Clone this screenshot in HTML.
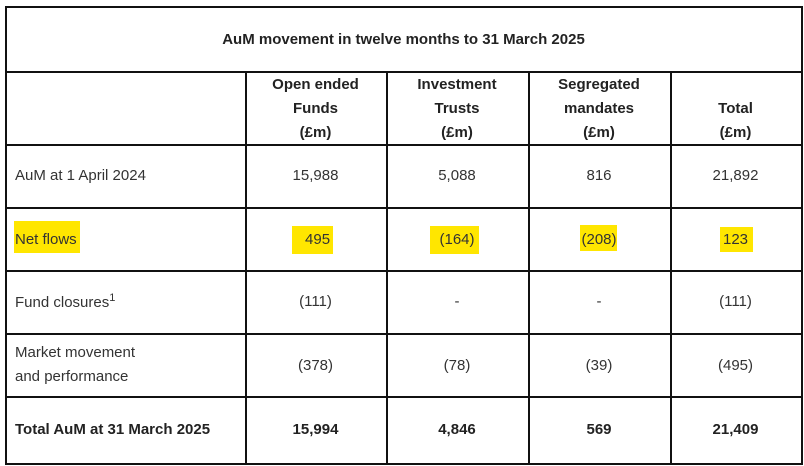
<!DOCTYPE html>
<html><head><meta charset="utf-8"><style>
body{margin:0;width:804px;height:466px;background:#fff;position:relative;overflow:hidden;font-family:"Liberation Sans",Arial,sans-serif;color:#333;font-size:15px}
.l{position:absolute;background:#111}
.t{position:absolute;text-align:center;line-height:24px}
.r{position:absolute;left:15px;line-height:24px}
.b{font-weight:bold;color:#222}
.hl{position:absolute;background:#ffe600}
</style></head><body>
<div>
<div class="l" style="left:5px;top:6px;width:797px;height:1.5px"></div>
<div class="l" style="left:5px;top:463px;width:797px;height:1.5px"></div>
<div class="l" style="left:5px;top:6px;width:1.5px;height:459px"></div>
<div class="l" style="left:801px;top:6px;width:1.5px;height:459px"></div>
<div class="l" style="left:5px;top:71px;width:797px;height:1.5px"></div>
<div class="l" style="left:5px;top:144px;width:797px;height:1.5px"></div>
<div class="l" style="left:5px;top:207px;width:797px;height:1.5px"></div>
<div class="l" style="left:5px;top:270px;width:797px;height:1.5px"></div>
<div class="l" style="left:5px;top:333px;width:797px;height:1.5px"></div>
<div class="l" style="left:5px;top:396px;width:797px;height:1.5px"></div>
<div class="l" style="left:245px;top:71px;width:1.5px;height:393px"></div>
<div class="l" style="left:386px;top:71px;width:1.5px;height:393px"></div>
<div class="l" style="left:528px;top:71px;width:1.5px;height:393px"></div>
<div class="l" style="left:670px;top:71px;width:1.5px;height:393px"></div>
</div>
<div class="hl" style="left:14px;top:221px;width:66px;height:32px"></div>
<div class="hl" style="left:292px;top:226px;width:41px;height:28px"></div>
<div class="hl" style="left:430px;top:226px;width:49px;height:28px"></div>
<div class="hl" style="left:580px;top:225px;width:37px;height:26px"></div>
<div class="hl" style="left:720px;top:227px;width:33px;height:25px"></div>

<div class="t b" style="left:5px;width:797px;top:28px">AuM movement in twelve months to 31 March 2025</div>
<div class="t b" style="left:245px;width:141px;top:73px">Open ended<br>Funds<br>(£m)</div>
<div class="t b" style="left:386px;width:142px;top:73px">Investment<br>Trusts<br>(£m)</div>
<div class="t b" style="left:528px;width:142px;top:73px">Segregated<br>mandates<br>(£m)</div>
<div class="t b" style="left:670px;width:131px;top:97px">Total<br>(£m)</div>

<div class="r" style="top:164px">AuM at 1 April 2024</div>
<div class="t" style="left:245px;width:141px;top:164px">15,988</div>
<div class="t" style="left:386px;width:142px;top:164px">5,088</div>
<div class="t" style="left:528px;width:142px;top:164px">816</div>
<div class="t" style="left:670px;width:131px;top:164px">21,892</div>

<div class="r" style="top:228px">Net flows</div>
<div class="t" style="left:245px;width:141px;top:228px">&nbsp;495</div>
<div class="t" style="left:386px;width:142px;top:228px">(164)</div>
<div class="t" style="left:528px;width:142px;top:228px">(208)</div>
<div class="t" style="left:670px;width:131px;top:228px">123</div>

<div class="r" style="top:291px">Fund closures<sup style="font-size:11px;line-height:0">1</sup></div>
<div class="t" style="left:245px;width:141px;top:290px">(111)</div>
<div class="t" style="left:386px;width:142px;top:290px">-</div>
<div class="t" style="left:528px;width:142px;top:290px">-</div>
<div class="t" style="left:670px;width:131px;top:290px">(111)</div>

<div class="r" style="top:341px">Market movement<br>and performance</div>
<div class="t" style="left:245px;width:141px;top:354px">(378)</div>
<div class="t" style="left:386px;width:142px;top:354px">(78)</div>
<div class="t" style="left:528px;width:142px;top:354px">(39)</div>
<div class="t" style="left:670px;width:131px;top:354px">(495)</div>

<div class="r b" style="top:418px">Total AuM at 31 March 2025</div>
<div class="t b" style="left:245px;width:141px;top:418px">15,994</div>
<div class="t b" style="left:386px;width:142px;top:418px">4,846</div>
<div class="t b" style="left:528px;width:142px;top:418px">569</div>
<div class="t b" style="left:670px;width:131px;top:418px">21,409</div>
</body></html>
